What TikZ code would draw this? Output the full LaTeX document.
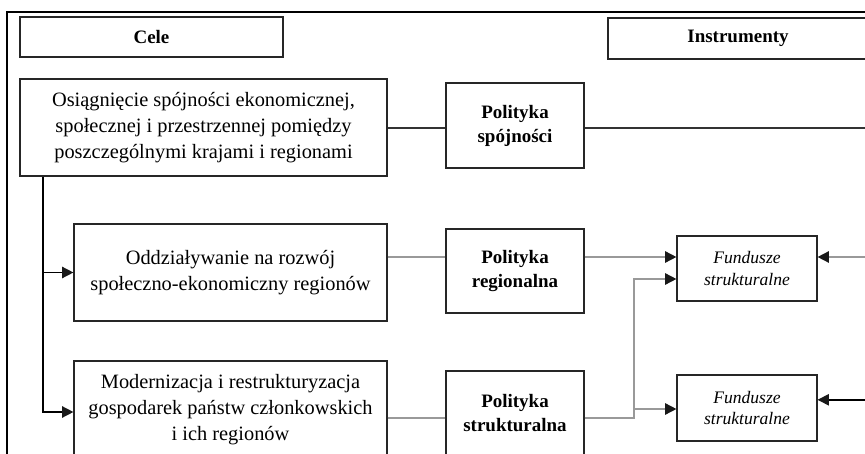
\documentclass[tikz,border=0pt]{standalone}
\usepackage{fontspec}
\setmainfont{Liberation Serif}
\usetikzlibrary{arrows.meta}

\begin{document}
\begin{tikzpicture}[
  box/.style={draw=black!85, line width=0.8pt, fill=white, align=center, inner sep=0pt},
  head/.style={box, minimum height=1cm, font={\bfseries\fontsize{13.5}{16}\selectfont}},
  aim/.style={box, minimum height=2.425cm, font={\fontsize{14.5}{18.5}\selectfont}},
  policy/.style={box, minimum width=3.45cm, minimum height=2.1cm, font={\bfseries\fontsize{13.5}{17}\selectfont}},
  fund/.style={box, minimum width=3.5cm, minimum height=1.625cm, font={\itshape\fontsize{12.5}{15}\selectfont}},
  link/.style={line width=1.1pt, draw=black!40},
  tip/.style={-{Triangle[length=8pt,width=8pt,color=black!90]}},
]

\useasboundingbox (0,0) rectangle (21.625,-11.35);

\draw [line width=1.4pt] (0.175,-11.6) -- (0.175,-0.3) -- (21.9,-0.3);

\node [head, minimum width=6.575cm] (cele) at (3.7875,-0.925) {Cele};
\node [head, minimum width=6.5cm, minimum height=1.025cm] (instr) at (18.45,-0.9625) {Instrumenty};


\node [aim, minimum width=9.175cm] (cel0) at (5.0875,-3.1875) {Osiągnięcie spójności ekonomicznej,\\
społecznej i przestrzennej pomiędzy\\
poszczególnymi krajami i regionami};

\node [policy, minimum height=2.125cm] (spoj) at (12.875,-3.1375) {Polityka\\spójności};


\node [aim, minimum width=7.825cm] (cel1) at (5.7625,-6.8125) {Oddziaływanie na rozwój\\
społeczno-ekonomiczny regionów};

\node [policy] (reg) at (12.875,-6.775) {Polityka\\regionalna};

\node [fund] (fund1) at (18.675,-6.7125) {Fundusze\\strukturalne};


\node [aim, minimum width=7.825cm, minimum height=2.45cm] (cel2) at (5.7625,-10.25) {Modernizacja i restrukturyzacja\\
gospodarek państw członkowskich\\
i ich regionów};

\node [policy] (strukt) at (12.875,-10.325) {Polityka\\strukturalna};

\node [fund, minimum height=1.65cm] (fund2) at (18.675,-10.2) {Fundusze\\strukturalne};


\coordinate (rowS) at (21.9,-3.2);
\coordinate (rowA) at (21.9,-6.425);
\coordinate (rowC) at (0,-6.975);
\coordinate (rowD) at (0,-10.225);
\coordinate (rowB) at (21.9,-9.995);
\coordinate (down) at (1.075,-10.3);
\coordinate (split) at (15.85,-10.45);

\draw [line width=0.8pt, draw=black!80] (cel0.east |- rowS) -- (spoj.west |- rowS);
\draw [line width=0.8pt, draw=black!80] (spoj.east |- rowS) -- (rowS);

\draw [line width=1pt, tip] (cel0.south -| down) -- (down) -- (cel2.west |- down);
\draw [line width=1pt, tip] (down |- cel1.west) -- (cel1.west);

\draw [link] (cel1.east |- rowA) -- (reg.west |- rowA);
\draw [link, tip] (reg.east |- rowA) -- (fund1.west |- rowA);
\draw [link, tip] (rowA) -- (fund1.east |- rowA);

\draw [link] (cel2.east |- split) -- (strukt.west |- split);
\draw [link, tip] (strukt.east |- split) -- (split) -- (split |- rowC) -- (fund1.west |- rowC);
\draw [link, tip] (split |- rowD) -- (fund2.west |- rowD);
\draw [line width=1pt, tip] (rowB) -- (fund2.east |- rowB);

\end{tikzpicture}
\end{document}
